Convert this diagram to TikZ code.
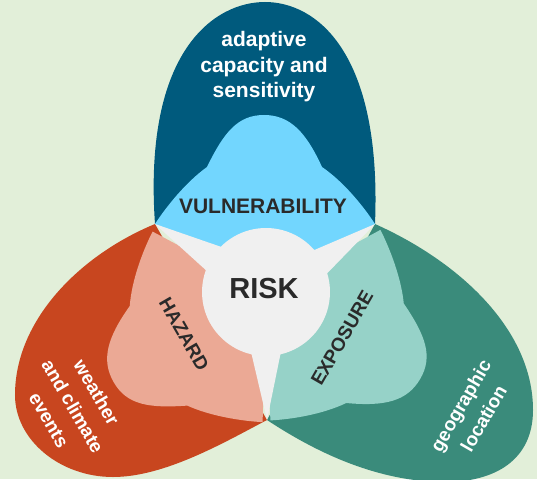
\documentclass[tikz,border=0pt]{standalone}
\usepackage{fontspec}
\setmainfont{Liberation Sans}
\definecolor{bg}{HTML}{E2EFD9}
\definecolor{vulndark}{HTML}{005A7D}
\definecolor{vulnlight}{HTML}{72D6FE}
\definecolor{hazdark}{HTML}{C8461F}
\definecolor{hazlight}{HTML}{EBA995}
\definecolor{expdark}{HTML}{3A8B7B}
\definecolor{explight}{HTML}{96D2C8}
\definecolor{riskgray}{HTML}{F0F0F0}
\definecolor{textdark}{HTML}{2A2A2A}
\begin{document}
\begin{tikzpicture}[x=1pt, y=1pt,
    key/.style={font=\bfseries\fontsize{21}{25}\selectfont, text=textdark, inner sep=0pt},
    note/.style={font=\bfseries\fontsize{19}{27.5}\selectfont, text=white, align=center, inner sep=0pt}]
    \useasboundingbox (-266,-187) rectangle (271,292);
    \fill [bg] (-266,-187) rectangle (271,292);
    \coordinate (vl) at (-111,68);
    \coordinate (vr) at (109,68);
    \coordinate (vb) at (1,-128);
    \fill [vulndark] (vl) .. controls (-123,242) and (-51,290) .. (-1,290) .. controls (49,290) and (116,242) .. (vr) -- cycle;
    \fill [hazdark] (vl) .. controls (-186,37) and (-251,-28) .. (-251,-103) .. controls (-251,-148) and (-206,-185) .. (-153,-185) .. controls (-101,-185) and (-41,-150) .. (vb) -- cycle;
    \fill [expdark] (vr) .. controls (194,30) and (267,-38) .. (267,-118) .. controls (267,-168) and (229,-190) .. (179,-190) .. controls (104,-190) and (39,-153) .. (vb) -- cycle;
    \fill [vulnlight] (-111,68) .. controls (-100,85) and (-80,110) .. (-59,125) .. controls (-42,160) and (-28,177) .. (-2,177) .. controls (24,177) and (40,160) .. (56,125) .. controls (78,110) and (98,85) .. (109,68) -- (0,0) -- cycle;
    \fill [hazlight, rotate=120] (-111,68) .. controls (-100,85) and (-80,110) .. (-59,125) .. controls (-42,160) and (-28,177) .. (-2,177) .. controls (24,177) and (40,160) .. (56,125) .. controls (78,110) and (98,85) .. (109,68) -- (0,0) -- cycle;
    \fill [explight, rotate=240] (-111,68) .. controls (-100,85) and (-80,110) .. (-59,125) .. controls (-42,160) and (-28,177) .. (-2,177) .. controls (24,177) and (40,160) .. (56,125) .. controls (78,110) and (98,85) .. (109,68) -- (0,0) -- cycle;
    \fill [riskgray] (vl) -- (135:64) arc [start angle=135, end angle=41, radius=64] -- (vr) -- (17:64) arc [start angle=17, end angle=-77, radius=64] -- (vb) -- (-103:64) arc [start angle=-103, end angle=-200, radius=64] -- cycle;
    \node [note, font=\bfseries\fontsize{21}{25.5}\selectfont] (capacity) at (-2,225) {adaptive\\capacity and\\sensitivity};
    \node [key] (vuln) at (-3,86) {VULNERABILITY};
    \node [key, font=\bfseries\fontsize{29}{30}\selectfont] (risk) at (-2,3) {RISK};
    \node [key, font=\bfseries\fontsize{19}{20}\selectfont, rotate=-60] (hazard) at (-82,-42) {HAZARD};
    \node [key, font=\bfseries\fontsize{19}{20}\selectfont, rotate=60] (exposure) at (76,-46) {EXPOSURE};
    \node [note, rotate=-60] (weather) at (-193,-114) {weather\\and climate\\events};
    \node [note, font=\bfseries\fontsize{19}{26.5}\selectfont, rotate=60] (location) at (206,-120) {geographic\\location};
\end{tikzpicture}
\end{document}
